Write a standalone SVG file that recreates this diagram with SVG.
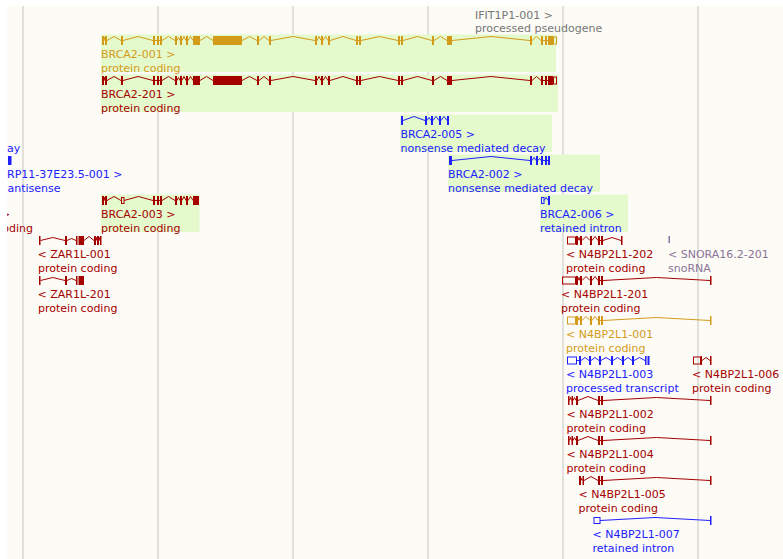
<svg xmlns="http://www.w3.org/2000/svg" xmlns:xlink="http://www.w3.org/1999/xlink" width="783" height="559" viewBox="0 0 783 559">
<style>
.t{font-family:"DejaVu Sans",sans-serif;font-size:11px}
.hl{fill:#e4f9cc}
.grid{stroke:#d9d7d2;stroke-width:1.5}
.intr{fill:none;stroke:currentColor;stroke-width:1}
.ex{fill:currentColor}
.utr{fill:none;stroke:currentColor;stroke-width:1}
.gold{color:#d49b1a;fill:#d49b1a}
.red{color:#a50000;fill:#a50000}
.blue{color:#2020ff;fill:#2020ff}
.gray{fill:#777777}
.sno{color:#8b7499;fill:#8b7499}
</style>
<defs>
<clipPath id="leftclip"><rect x="7" y="0" width="776" height="559"/></clipPath>
<g id="brca2full">
<path class="intr" d="M104 0L104.5-3L105 0M107 0L114-4L121 0M123 0L138-4L153 0M155 0H157M159 0H160M162 0L168.5-4L175 0M177 0L178.5-3L180 0M182 0L184-4L186 0M188 0L190.5-4L193 0M200 0L206.5-4L213 0M242 0L249.5-4L257 0M259 0L264-4L269 0M271 0L293-4L315 0M317 0L319-4L321 0M323 0L325.5-4L328 0M330 0L343-4L356 0M358 0H359M361 0L379.5-4L398 0M400 0H401M403 0L417.5-4L432 0M434 0L440.5-4L447 0M452 0L491-4L530 0M532 0L536.5-4L541 0M543 0H545M547 0H548"/>
<g class="ex">
<rect x="102" y="-4.5" width="2" height="9"/><rect x="105" y="-4.5" width="2" height="9"/><rect x="121" y="-4.5" width="2" height="9"/><rect x="153" y="-4.5" width="2" height="9"/><rect x="157" y="-4.5" width="2" height="9"/><rect x="160" y="-4.5" width="2" height="9"/><rect x="175" y="-4.5" width="2" height="9"/><rect x="180" y="-4.5" width="2" height="9"/><rect x="186" y="-4.5" width="2" height="9"/><rect x="193" y="-4.5" width="7" height="9"/><rect x="213" y="-4.5" width="29" height="9"/><rect x="257" y="-4.5" width="2" height="9"/><rect x="269" y="-4.5" width="2" height="9"/><rect x="315" y="-4.5" width="2" height="9"/><rect x="321" y="-4.5" width="2" height="9"/><rect x="328" y="-4.5" width="2" height="9"/><rect x="356" y="-4.5" width="2" height="9"/><rect x="359" y="-4.5" width="2" height="9"/><rect x="398" y="-4.5" width="2" height="9"/><rect x="401" y="-4.5" width="2" height="9"/><rect x="432" y="-4.5" width="2" height="9"/><rect x="447" y="-4.5" width="5" height="9"/><rect x="530" y="-4.5" width="2" height="9"/><rect x="541" y="-4.5" width="2" height="9"/><rect x="545" y="-4.5" width="2" height="9"/><rect x="548" y="-4.5" width="5" height="9"/>
</g>
<rect class="utr" x="553.5" y="-3.5" width="3" height="7"/>
</g>
<g id="n4common">
<path class="intr" d="M578 0L579-3L580 0M582 0L586-4L590 0M592 0L595-4L598 0"/>
<g class="ex"><rect x="576" y="-4.5" width="2" height="9"/><rect x="580" y="-4.5" width="2" height="9"/><rect x="590" y="-4.5" width="2" height="9"/><rect x="598" y="-4.5" width="2" height="9"/><rect x="601" y="-4.5" width="2" height="9"/></g>
<path class="intr" d="M600 0H601"/>
</g>
</defs>

<rect x="0" y="0" width="783" height="559" fill="#ffffff"/>
<rect x="7" y="6" width="776" height="553" fill="#fcfbf6"/>
<g id="grid">
<line class="grid" x1="23" y1="6" x2="23" y2="559"/>
<line class="grid" x1="158" y1="6" x2="158" y2="559"/>
<line class="grid" x1="293" y1="6" x2="293" y2="559"/>
<line class="grid" x1="428" y1="6" x2="428" y2="559"/>
<line class="grid" x1="563" y1="6" x2="563" y2="559"/>
<line class="grid" x1="698" y1="6" x2="698" y2="559"/>
</g>

<g id="IFIT1P1-001">
<text class="t gray" x="475" y="18.5">IFIT1P1-001 &gt;</text>
<text class="t gray" x="475" y="31.5">processed pseudogene</text>
</g>

<g id="BRCA2-001" class="gold">
<rect class="hl" x="101" y="34.5" width="455" height="37.5"/>
<use xlink:href="#brca2full" transform="translate(0,40.5)"/>
<text class="t" x="101" y="57.5">BRCA2-001 &gt;</text>
<text class="t" x="101" y="71.5">protein coding</text>
</g>

<g id="BRCA2-201" class="red">
<rect class="hl" x="101" y="74.5" width="457" height="37.5"/>
<use xlink:href="#brca2full" transform="translate(0,80.5)"/>
<text class="t" x="101" y="97.5">BRCA2-201 &gt;</text>
<text class="t" x="101" y="111.5">protein coding</text>
</g>

<g id="BRCA2-005" class="blue">
<rect class="hl" x="400" y="114.5" width="152" height="37.5"/>
<g transform="translate(0,120.5)">
<path class="intr" d="M403 0L414-4L425 0M427 0L429-3L431 0M433 0L436-4L439 0M441 0L444-4L447 0"/>
<g class="ex"><rect x="401" y="-4.5" width="2" height="9"/><rect x="425" y="-4.5" width="2" height="9"/><rect x="431" y="-4.5" width="2" height="9"/><rect x="439" y="-4.5" width="2" height="9"/><rect x="447" y="-4.5" width="2" height="9"/></g>
</g>
<text class="t" x="400.5" y="137.5">BRCA2-005 &gt;</text>
<text class="t" x="400.5" y="151.5">nonsense mediated decay</text>
</g>

<g id="left-nmd" class="blue" clip-path="url(#leftclip)">
<text class="t" x="7" y="151.5">ay</text>
</g>

<g id="BRCA2-002" class="blue">
<rect class="hl" x="448" y="154.5" width="152" height="37.5"/>
<g transform="translate(0,160.5)">
<path class="intr" d="M452 0L491-4L530 0M532 0L534-3L536 0M538 0L539.5-2L541 0M543 0H545M547 0H548"/>
<g class="ex"><rect x="449" y="-4.5" width="3" height="9"/><rect x="530" y="-4.5" width="2" height="9"/><rect x="536" y="-4.5" width="2" height="9"/><rect x="541" y="-4.5" width="2" height="9"/><rect x="545" y="-4.5" width="2" height="9"/><rect x="548" y="-4.5" width="2" height="9"/></g>
</g>
<text class="t" x="448" y="177.5">BRCA2-002 &gt;</text>
<text class="t" x="448" y="191.5">nonsense mediated decay</text>
</g>

<g id="RP11-37E23.5-001" class="blue">
<rect x="8" y="156" width="3.5" height="9"/>
<text class="t" x="7" y="177.5">RP11-37E23.5-001 &gt;</text>
<text class="t" x="7.5" y="191.5">antisense</text>
</g>

<g id="BRCA2-006" class="blue">
<rect class="hl" x="540" y="194.5" width="88" height="37.5"/>
<g transform="translate(0,200.5)">
<rect class="utr" x="541.5" y="-3" width="2.5" height="6"/>
<path class="intr" d="M544 0L546-3L548 0"/>
<rect class="ex" x="548" y="-4.5" width="2" height="9"/>
</g>
<text class="t" x="540" y="217.5">BRCA2-006 &gt;</text>
<text class="t" x="540" y="231.5">retained intron</text>
</g>

<g id="left-pc" class="red" clip-path="url(#leftclip)">
<text class="t" x="1" y="217.5">&gt;</text>
<text class="t" x="2.3" y="231.5">oding</text>
</g>

<g id="BRCA2-003" class="red">
<rect class="hl" x="101" y="194.5" width="98.5" height="37.5"/>
<g transform="translate(0,200.5)">
<path class="intr" d="M104 0L104.5-3L105 0M107 0L114-4L121 0M124 0L138.5-4L153 0M155 0H157M159 0H160M162 0L168.5-4L175 0M177 0L178.5-3L180 0M182 0L184-4L186 0M188 0L190.5-4L193 0"/>
<g class="ex"><rect x="102" y="-4.5" width="2" height="9"/><rect x="105" y="-4.5" width="2" height="9"/><rect x="153" y="-4.5" width="2" height="9"/><rect x="157" y="-4.5" width="2" height="9"/><rect x="160" y="-4.5" width="2" height="9"/><rect x="175" y="-4.5" width="2" height="9"/><rect x="180" y="-4.5" width="2" height="9"/><rect x="186" y="-4.5" width="2" height="9"/><rect x="193" y="-4.5" width="6" height="9"/></g>
<rect class="utr" x="121.5" y="-3" width="2.5" height="6"/>
</g>
<text class="t" x="101" y="217.5">BRCA2-003 &gt;</text>
<text class="t" x="101" y="231.5">protein coding</text>
</g>

<g id="ZAR1L-001" class="red">
<g transform="translate(0,240.5)">
<path class="intr" d="M40.5 0L52.75-3L65 0M67 0L71.5-2L76 0M84 0L89-4L94 0M96 0L96.5-3L97 0M99 0L99.5-3L100 0"/>
<g class="ex"><rect x="39" y="-4.5" width="1.5" height="9"/><rect x="65" y="-4.5" width="2" height="9"/><rect x="76" y="-4.5" width="1.5" height="9"/><rect x="78.5" y="-4.5" width="5.5" height="9"/><rect x="94" y="-4.5" width="2" height="9"/><rect x="97" y="-4.5" width="2" height="9"/><rect x="100" y="-4.5" width="1.5" height="9"/></g>
</g>
<text class="t" x="37.5" y="257.5">&lt; ZAR1L-001</text>
<text class="t" x="38" y="271.5">protein coding</text>
</g>

<g id="ZAR1L-201" class="red">
<g transform="translate(0,280.5)">
<path class="intr" d="M40.5 0L52.75-3L65 0M67 0L71.5-2L76 0"/>
<g class="ex"><rect x="39" y="-4.5" width="1.5" height="9"/><rect x="65" y="-4.5" width="2" height="9"/><rect x="76" y="-4.5" width="1.5" height="9"/><rect x="78.5" y="-4.5" width="5.5" height="9"/></g>
</g>
<text class="t" x="37.5" y="297.5">&lt; ZAR1L-201</text>
<text class="t" x="38" y="311.5">protein coding</text>
</g>

<g id="N4BP2L1-202" class="red">
<g transform="translate(0,240.5)">
<rect class="utr" x="567.5" y="-3.5" width="8" height="7"/>
<use xlink:href="#n4common"/>
<path class="intr" d="M603 0L612-3L621 0"/>
<rect class="ex" x="621" y="-4.5" width="1.5" height="9"/>
</g>
<text class="t" x="566" y="257.5">&lt; N4BP2L1-202</text>
<text class="t" x="566" y="271.5">protein coding</text>
</g>

<g id="SNORA16.2-201" class="sno">
<rect x="668.5" y="236" width="1.5" height="7"/>
<text class="t" x="668" y="257.5">&lt; SNORA16.2-201</text>
<text class="t" x="668" y="271.5">snoRNA</text>
</g>

<g id="N4BP2L1-201" class="red">
<g transform="translate(0,280.5)">
<rect class="utr" x="562.5" y="-3.5" width="13" height="7"/>
<use xlink:href="#n4common"/>
<path class="intr" d="M603 0L656.5-3L710 0"/>
<rect class="ex" x="710" y="-4.5" width="1.5" height="9"/>
</g>
<text class="t" x="561" y="297.5">&lt; N4BP2L1-201</text>
<text class="t" x="561" y="311.5">protein coding</text>
</g>

<g id="N4BP2L1-001" class="gold">
<g transform="translate(0,320.5)">
<rect class="utr" x="567.5" y="-3.5" width="8" height="7"/>
<use xlink:href="#n4common"/>
<path class="intr" d="M603 0L656.5-3L710 0"/>
<rect class="ex" x="710" y="-4.5" width="1.5" height="9"/>
</g>
<text class="t" x="566" y="337.5">&lt; N4BP2L1-001</text>
<text class="t" x="566" y="351.5">protein coding</text>
</g>

<g id="N4BP2L1-003" class="blue">
<g transform="translate(0,360.5)">
<rect class="utr" x="567.5" y="-3.5" width="9" height="7"/>
<path class="intr" d="M576.5 0H579M581 0L585-3L589 0M591 0L595-3L599 0M601 0L606-3L611 0M613 0L617.5-3L622 0M624 0L628-3L632 0M634 0L639.5-3L645 0"/>
<g class="ex"><rect x="579" y="-4.5" width="2" height="9"/><rect x="589" y="-4.5" width="2" height="9"/><rect x="599" y="-4.5" width="2" height="9"/><rect x="611" y="-4.5" width="2" height="9"/><rect x="622" y="-4.5" width="2" height="9"/><rect x="632" y="-4.5" width="2" height="9"/><rect x="645" y="-4.5" width="1.5" height="9"/><rect x="647.5" y="-4.5" width="2" height="9"/></g>
</g>
<text class="t" x="566" y="377.5">&lt; N4BP2L1-003</text>
<text class="t" x="566" y="391.5">processed transcript</text>
</g>

<g id="N4BP2L1-006" class="red">
<g transform="translate(0,360.5)">
<rect class="utr" x="693.5" y="-3.5" width="7" height="7"/>
<path class="intr" d="M702 0L706-3L710 0"/>
<g class="ex"><rect x="700.5" y="-4.5" width="1.5" height="9"/><rect x="710" y="-4.5" width="1.5" height="9"/></g>
</g>
<text class="t" x="692" y="377.5">&lt; N4BP2L1-006</text>
<text class="t" x="692" y="391.5">protein coding</text>
</g>

<g id="N4BP2L1-002" class="red">
<g transform="translate(0,400.5)">
<path class="intr" d="M569.5 0L570.5-3L571.5 0M573 0L574.5-3L576 0M578 0L588-4L598 0M600 0H601M603 0L656.5-3L710 0"/>
<g class="ex"><rect x="568" y="-4.5" width="1.5" height="9"/><rect x="571.5" y="-4.5" width="1.5" height="9"/><rect x="576" y="-4.5" width="2" height="9"/><rect x="598" y="-4.5" width="2" height="9"/><rect x="601" y="-4.5" width="2" height="9"/><rect x="710" y="-4.5" width="1.5" height="9"/></g>
</g>
<text class="t" x="566.5" y="417.5">&lt; N4BP2L1-002</text>
<text class="t" x="566.5" y="431.5">protein coding</text>
</g>

<g id="N4BP2L1-004" class="red">
<g transform="translate(0,440.5)">
<path class="intr" d="M569.5 0L570.5-3L571.5 0M573 0L574.5-3L576 0M578 0L588-4L598 0M600 0H601M603 0L656.5-3L710 0"/>
<g class="ex"><rect x="568" y="-4.5" width="1.5" height="9"/><rect x="571.5" y="-4.5" width="1.5" height="9"/><rect x="576" y="-4.5" width="2" height="9"/><rect x="598" y="-4.5" width="2" height="9"/><rect x="601" y="-4.5" width="2" height="9"/><rect x="710" y="-4.5" width="1.5" height="9"/></g>
</g>
<text class="t" x="566.5" y="457.5">&lt; N4BP2L1-004</text>
<text class="t" x="566.5" y="471.5">protein coding</text>
</g>

<g id="N4BP2L1-005" class="red">
<g transform="translate(0,480.5)">
<path class="intr" d="M581 0L581.5-2L582.5 0M584 0L591-4L598 0M600 0H601M603 0L656.5-3L710 0"/>
<g class="ex"><rect x="579" y="-4.5" width="2" height="9"/><rect x="582.5" y="-4.5" width="1.5" height="9"/><rect x="598" y="-4.5" width="2" height="9"/><rect x="601" y="-4.5" width="2" height="9"/><rect x="710" y="-4.5" width="1.5" height="9"/></g>
</g>
<text class="t" x="578.5" y="497.5">&lt; N4BP2L1-005</text>
<text class="t" x="578.5" y="511.5">protein coding</text>
</g>

<g id="N4BP2L1-007" class="blue">
<g transform="translate(0,520.5)">
<rect class="utr" x="594" y="-3" width="6" height="6"/>
<path class="intr" d="M600 0L655-3L710 0"/>
<rect class="ex" x="710" y="-4.5" width="1.5" height="9"/>
</g>
<text class="t" x="592.5" y="537.5">&lt; N4BP2L1-007</text>
<text class="t" x="592.5" y="551.5">retained intron</text>
</g>
</svg>
